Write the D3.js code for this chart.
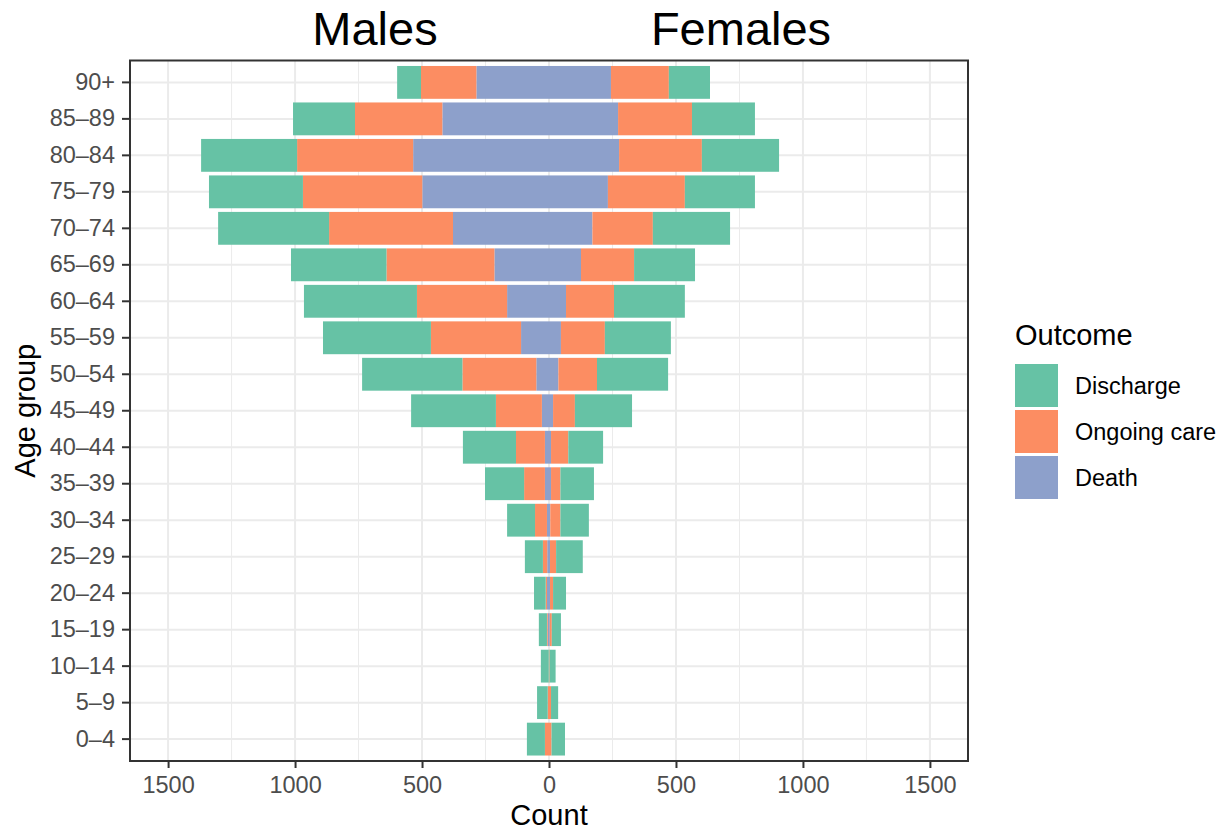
<!DOCTYPE html>
<html>
<head>
<meta charset="utf-8">
<script src="https://cdn.jsdelivr.net/npm/d3@7"></script>
<style>
  body { margin: 0; background: #fff; }
  svg { font-family: "Liberation Sans", Arial, Helvetica, sans-serif; }
</style>
</head>
<body>
<svg class="chart"></svg>
<script>
// Age groups, bottom to top
const ageGroups = ['0–4', '5–9', '10–14', '15–19', '20–24', '25–29', '30–34', '35–39', '40–44',
  '45–49', '50–54', '55–59', '60–64', '65–69', '70–74', '75–79', '80–84', '85–89', '90+'];

const outcomes = ['Death', 'Ongoing care', 'Discharge'];
const legendOrder = ['Discharge', 'Ongoing care', 'Death'];
const outcomeColors = ['#8da0cb', '#fc8d62', '#66c2a5'];

// Counts per age group (same order as ageGroups)
const maleDeath = [0, 0, 0, 5, 8, 7, 8, 16, 16, 28, 50, 110, 165, 215, 378, 499, 535, 420, 286];
const maleOngoing = [16, 5, 1, 3, 5, 17, 47, 82, 114, 181, 291, 355, 355, 425, 488, 470, 457, 344, 218];
const maleDischarge = [71, 42, 31, 32, 46, 71, 110, 154, 209, 334, 395, 425, 445, 376, 437, 370, 378, 244, 94];

const femaleDeath = [0, 0, 0, 3, 4, 4, 5, 8, 8, 16, 37, 47, 67, 126, 171, 232, 276, 272, 244];
const femaleOngoing = [10, 8, 2, 8, 12, 24, 40, 37, 68, 86, 152, 173, 189, 209, 238, 303, 326, 291, 228];
const femaleDischarge = [53, 28, 24, 36, 51, 105, 112, 132, 137, 225, 280, 260, 279, 240, 304, 276, 304, 248, 162];

const xTicks = [-1500, -1000, -500, 0, 500, 1000, 1500];
const xMinorTicks = [-1250, -750, -250, 250, 750, 1250];

const width = 1228;
const height = 833;
const panel = { left: 130, right: 968, top: 60.5, bottom: 761 };

const svg = d3.select('svg.chart')
  .attr('width', width)
  .attr('height', height);

//Scales
const x = d3.scaleLinear()
  .domain([-1650, 1650])
  .range([panel.left, panel.right]);

const y = d3.scaleBand()
  .domain(ageGroups.slice().reverse())
  .range([panel.top, panel.bottom])
  .paddingInner(0.1)
  .paddingOuter(0.15);

const color = d3.scaleOrdinal()
  .domain(outcomes)
  .range(outcomeColors);

//Build tables for stacking
function makeRows(death, ongoing, discharge) {
  return ageGroups.map((g, i) => ({
    age: g,
    'Death': death[i],
    'Ongoing care': ongoing[i],
    'Discharge': discharge[i],
  }));
}

const stack = d3.stack().keys(outcomes);
const maleStack = stack(makeRows(maleDeath, maleOngoing, maleDischarge));
const femaleStack = stack(makeRows(femaleDeath, femaleOngoing, femaleDischarge));

//Grid lines
const grid = svg.append('g');

grid.selectAll('.minor')
  .data(xMinorTicks)
  .enter()
  .append('line')
    .attr('x1', d => x(d))
    .attr('x2', d => x(d))
    .attr('y1', panel.top)
    .attr('y2', panel.bottom)
    .attr('stroke', '#ebebeb')
    .attr('stroke-width', 1);

grid.selectAll('.vmajor')
  .data(xTicks)
  .enter()
  .append('line')
    .attr('x1', d => x(d))
    .attr('x2', d => x(d))
    .attr('y1', panel.top)
    .attr('y2', panel.bottom)
    .attr('stroke', '#ebebeb')
    .attr('stroke-width', 2);

grid.selectAll('.hmajor')
  .data(ageGroups)
  .enter()
  .append('line')
    .attr('x1', panel.left)
    .attr('x2', panel.right)
    .attr('y1', d => y(d) + y.bandwidth() / 2)
    .attr('y2', d => y(d) + y.bandwidth() / 2)
    .attr('stroke', '#ebebeb')
    .attr('stroke-width', 2);

//Bars
function drawBars(layers, sign) {
  const g = svg.append('g');
  layers.forEach(layer => {
    g.selectAll(null)
      .data(layer)
      .enter()
      .append('rect')
        .attr('x', d => sign > 0 ? x(d[0]) : x(-d[1]))
        .attr('width', d => Math.abs(x(d[1]) - x(d[0])))
        .attr('y', d => y(d.data.age))
        .attr('height', y.bandwidth())
        .attr('fill', color(layer.key));
  });
}

drawBars(maleStack, -1);
drawBars(femaleStack, 1);

//Panel border
svg.append('rect')
  .attr('x', panel.left)
  .attr('y', panel.top)
  .attr('width', panel.right - panel.left)
  .attr('height', panel.bottom - panel.top)
  .attr('fill', 'none')
  .attr('stroke', '#333333')
  .attr('stroke-width', 2);

//Axes
const xAxis = svg.append('g')
  .attr('transform', `translate(0,${panel.bottom})`)
  .call(d3.axisBottom(x).tickValues(xTicks).tickFormat(d => Math.abs(d)).tickSize(7).tickPadding(8));

const yAxis = svg.append('g')
  .attr('transform', `translate(${panel.left - 1},0)`)
  .call(d3.axisLeft(y).tickSize(7).tickPadding(7));

[xAxis, yAxis].forEach(a => {
  a.select('.domain').remove();
  a.selectAll('.tick line').attr('stroke', '#333333').attr('stroke-width', 2);
  a.selectAll('.tick text')
    .attr('fill', '#4d4d4d')
    .style('font-size', '23.5px')
    .style('font-family', '"Liberation Sans", Arial, sans-serif');
});

//Titles
svg.append('text')
  .attr('x', 375)
  .attr('y', 45)
  .attr('text-anchor', 'middle')
  .style('font-size', '47px')
  .text('Males');

svg.append('text')
  .attr('x', 741)
  .attr('y', 45)
  .attr('text-anchor', 'middle')
  .style('font-size', '47px')
  .text('Females');

svg.append('text')
  .attr('x', x(0))
  .attr('y', 825)
  .attr('text-anchor', 'middle')
  .style('font-size', '29px')
  .text('Count');

svg.append('text')
  .attr('transform', `translate(35,${(panel.top + panel.bottom) / 2}) rotate(-90)`)
  .attr('text-anchor', 'middle')
  .style('font-size', '29px')
  .text('Age group');

//Legend
const legend = svg.append('g').attr('transform', 'translate(1015,0)');

legend.append('text')
  .attr('x', 0)
  .attr('y', 345)
  .style('font-size', '29px')
  .text('Outcome');

const keys = legend.selectAll('.key')
  .data(legendOrder)
  .enter()
  .append('g')
    .attr('transform', (d, i) => `translate(0,${364 + i * 46})`);

keys.append('rect')
  .attr('width', 43)
  .attr('height', 43)
  .attr('fill', d => color(d));

keys.append('text')
  .attr('x', 60)
  .attr('y', 21.5)
  .attr('dy', '0.35em')
  .style('font-size', '23.5px')
  .text(d => d);
</script>
</body>
</html>
